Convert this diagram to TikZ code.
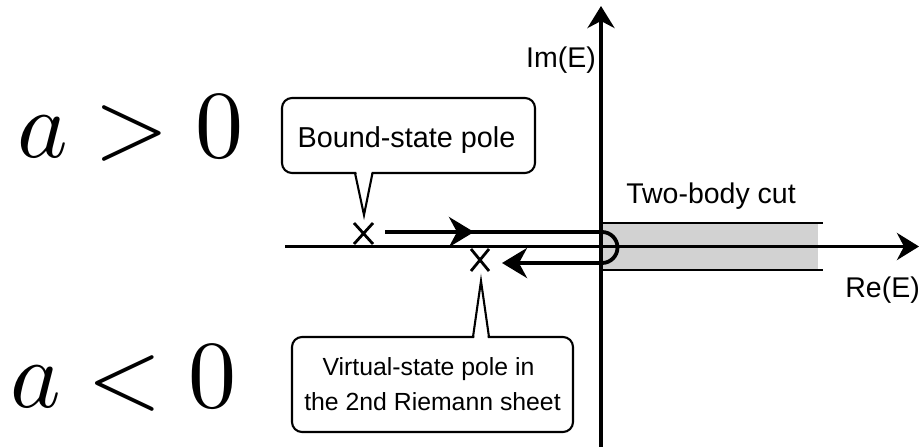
\documentclass[tikz,border=0pt]{standalone}
\usepackage[no-math]{fontspec}
\setmainfont{Liberation Sans}
\usetikzlibrary{arrows.meta,calc}
\definecolor{cutgray}{RGB}{210,210,210}
\tikzset{
  axis/.style={line width=3.8pt,-{Stealth[length=22pt,width=27pt,inset=7pt]}},
  contour/.style={line width=3.8pt},
  flowtip/.style={-{Stealth[length=25pt,width=30pt,inset=8pt]}},
  cutline/.style={line width=1.6pt},
  pole/.style={line width=2.8pt},
  callout/.style={draw,line width=2.1pt,rounded corners=10pt,fill=white,inner sep=0pt},
  lbl/.style={inner sep=0pt,font=\fontsize{28.5}{34}\selectfont},
  vlbl/.style={inner sep=0pt,anchor=base,font=\fontsize{24.8}{30}\selectfont},
}
\begin{document}
\begin{tikzpicture}[x=1pt,y=-1pt]
\useasboundingbox (0,0) rectangle (919,447);
% two-body cut
\fill[cutgray] (601,223) rectangle (818,270);
\draw[cutline] (601,223) -- (823,223);
\draw[cutline] (601,270) -- (823,270);
\node[lbl,anchor=base] (cut) at (711,203) {Two-body cut};
% axes
\coordinate (xs) at (285,246.5);
\coordinate (xe) at (919,246.5);
\coordinate (ys) at (601,447);
\coordinate (ye) at (601,6);
\draw[axis] (xs) -- (xe);
\draw[axis] (ys) -- (ye);
\node[lbl,anchor=base east] (im) at (596,67) {Im(E)};
\node[lbl,anchor=base east] (re) at (920,297) {Re(E)};
% contour
\coordinate (cstart) at (385,232);
\coordinate (cpre) at (440,232);
\coordinate (cmid) at (474,232);
\coordinate (cend) at (502,263);
\draw[contour,flowtip] (cstart) -- (602,232) arc[start angle=-90,end angle=90,radius=15.5] -- (cend);
\draw[contour,flowtip] (cpre) -- (cmid);
% poles
\coordinate (bp) at (363.5,233.5);
\coordinate (vp) at (480,260);
\draw[pole] ($(bp)+(-9.5,-10.5)$) -- ($(bp)+(9.5,10.5)$) ($(bp)+(-9.5,10.5)$) -- ($(bp)+(9.5,-10.5)$);
\draw[pole] ($(vp)+(-9,-11)$) -- ($(vp)+(9,11)$) ($(vp)+(-9,11)$) -- ($(vp)+(9,-11)$);
% callouts
\node[callout,minimum width=253pt,minimum height=75pt] (bbox) at (408.5,135.5) {};
\node[lbl,anchor=base,font=\fontsize{28.8}{34}\selectfont] (btxt) at (406.5,147) {Bound-state pole};
\coordinate (btip) at (364,215);
\fill[white] (356,170) -- (btip) -- (372,170) -- cycle;
\draw[line width=2.1pt] (355,173) -- (btip) -- (372.5,173);
\node[callout,minimum width=281pt,minimum height=95pt] (vbox) at (432.5,384.5) {};
\node[vlbl] (vtxt1) at (428.5,375) {Virtual-state pole in};
\node[vlbl] (vtxt2) at (432.5,410) {the 2nd Riemann sheet};
\coordinate (vtip) at (481,281);
\fill[white] (474,340) -- (vtip) -- (488,340) -- cycle;
\draw[line width=2.1pt] (473,337) -- (vtip) -- (489,337);
% scattering length labels
\node[anchor=base west,inner sep=0pt] (apos) at (17,157) {\scalebox{9.6}{$a>0$}};
\node[anchor=base west,inner sep=0pt] (aneg) at (10,407) {\scalebox{9.6}{$a<0$}};
\end{tikzpicture}
\end{document}
